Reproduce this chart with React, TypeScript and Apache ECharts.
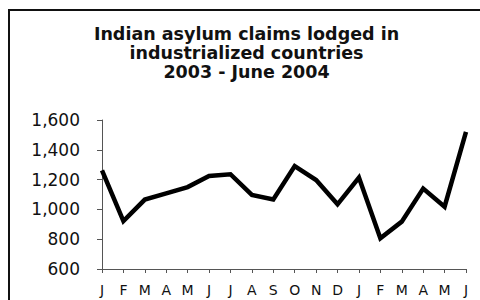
import React, { useEffect, useRef } from "react";
import * as echarts from "echarts";

const months = ["J", "F", "M", "A", "M", "J", "J", "A", "S", "O", "N", "D", "J", "F", "M", "A", "M", "J"];
const claims = [1262, 922, 1066, 1108, 1150, 1224, 1236, 1097, 1066, 1291, 1197, 1034, 1214, 806, 918, 1140, 1018, 1520];
const titleLines = ["Indian asylum claims lodged in", "industrialized countries", "2003 - June 2004"];
const yMin = 600;
const yMax = 1600;
const yStep = 200;

export default function App() {
  const ref = useRef<HTMLDivElement>(null);
  useEffect(() => {
    if (!ref.current) return;
    const chart = echarts.init(ref.current, null, { renderer: "svg" });
    chart.setOption({
      animation: false,
      backgroundColor: "#ffffff",
      title: {
        text: titleLines.join("\n"),
        left: 246.5,
        top: 24,
        padding: 0,
        textAlign: "center",
        textStyle: {
          fontFamily: "DejaVu Sans",
          fontWeight: "bold",
          fontSize: 17.5,
          lineHeight: 19,
          color: "#111",
        },
      },
      graphic: [
        {
          type: "rect",
          shape: { x: 9, y: 10, width: 520, height: 400 },
          style: { fill: "none", stroke: "#111", lineWidth: 2 },
          silent: true,
        },
      ],
      grid: { left: 102, right: 14, top: 120, bottom: 31, containLabel: false },
      xAxis: {
        type: "category",
        data: months,
        boundaryGap: false,
        axisLine: { lineStyle: { color: "#555", width: 1 } },
        axisTick: { show: true, length: 4, lineStyle: { color: "#555" } },
        axisLabel: {
          interval: 0,
          margin: 14,
          fontFamily: "DejaVu Sans",
          fontSize: 14,
          color: "#111",
        },
        splitLine: { show: false },
      },
      yAxis: {
        type: "value",
        min: yMin,
        max: yMax,
        interval: yStep,
        axisLine: { show: true, lineStyle: { color: "#555", width: 1 } },
        axisTick: { show: true, length: 5, lineStyle: { color: "#555" } },
        axisLabel: {
          margin: 22,
          fontFamily: "DejaVu Sans",
          fontSize: 17,
          color: "#111",
          formatter: (v: number) => v.toLocaleString("en-US"),
        },
        splitLine: { show: false },
      },
      series: [
        {
          type: "line",
          data: claims,
          symbol: "none",
          lineStyle: { color: "#000", width: 4.5, join: "miter" },
        },
      ],
    });
    return () => chart.dispose();
  }, []);
  return (
    <div
      ref={ref}
      style={{ position: "absolute", left: 0, top: 0, width: 480, height: 300 }}
    />
  );
}
